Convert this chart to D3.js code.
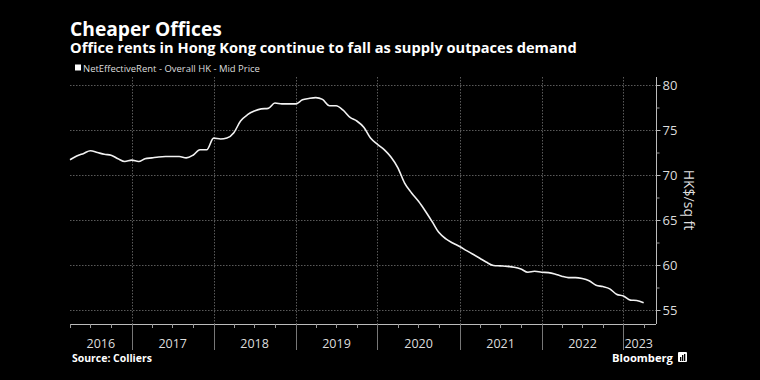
<!DOCTYPE html>
<html><head><meta charset="utf-8">
<script src="https://cdn.jsdelivr.net/npm/d3@7"></script>
<style>
html,body{margin:0;padding:0;background:#000;}
svg{display:block;}
text{font-family:"Open Sans","DejaVu Sans",sans-serif;}
</style></head>
<body>
<svg id="chart" width="760" height="380"></svg>
<script>
// ---- data (monthly, Apr 2016 – Apr 2023), HK$/sq ft ----
const startMonth = "2016-04";
const rentValues = [
 71.7,72.1,72.4,72.7,72.5,72.3,72.2,71.8,71.5,            // 2016 Apr-Dec
 71.65,71.5,71.8,71.9,72.0,72.05,72.05,72.05,71.9,72.2,72.8,72.8, // 2017
 74.1,74.0,74.1,74.7,76.0,76.7,77.1,77.35,77.4,78.0,77.9,77.9,   // 2018
 77.9,78.35,78.5,78.6,78.4,77.7,77.7,77.2,76.4,76.0,75.3,74.1,   // 2019
 73.4,72.8,72.0,70.8,69.1,68.0,67.1,66.0,64.8,63.6,62.9,62.45,   // 2020
 62.05,61.6,61.2,60.75,60.3,59.95,59.9,59.85,59.75,59.55,59.2,59.3, // 2021
 59.2,59.15,59.0,58.75,58.6,58.6,58.5,58.25,57.75,57.6,57.35,56.75, // 2022
 56.55,56.1,56.05,55.8                                            // 2023
];
const yTicks = [55,60,65,70,75,80];
const yearLabels = ["2016","2017","2018","2019","2020","2021","2022","2023"];
const titleText = "Cheaper Offices";
const subtitleText = "Office rents in Hong Kong continue to fall as supply outpaces demand";
const legendText = "NetEffectiveRent - Overall HK - Mid Price";
const unitText = "HK$/sq ft";
const sourceText = "Source: Colliers";

// ---- build dated series ----
const parse = d3.timeParse("%Y-%m");
const t0 = parse(startMonth);
const series = rentValues.map((v,i)=>({date:d3.timeMonth.offset(t0,i), value:v}));

const svg = d3.select("#chart");
const W=760,H=380;
svg.append("rect").attr("width",W).attr("height",H).attr("fill","#000");

const L=70, R=656, T=85, B=310, axisY=324;
const x = d3.scaleTime().domain([t0, new Date(2023,4,26)]).range([L,R]);
const y = d3.scaleLinear().domain([55,80]).range([B,T]);

function fit(sel, w){
  const n=sel.node(); const cur=n.getComputedTextLength();
  const fs=parseFloat(sel.attr("font-size"));
  sel.attr("font-size", (fs*w/cur).toFixed(2));
}

// titles
const tt = svg.append("text").attr("x",70).attr("y",35.5).attr("fill","#fff")
  .attr("font-weight","bold").attr("font-size",20).text(titleText);
fit(tt,152);
const st = svg.append("text").attr("x",70).attr("y",52.5).attr("fill","#fff")
  .attr("font-weight","bold").attr("font-size",15).text(subtitleText);
fit(st,507);

// legend
svg.append("rect").attr("x",75).attr("y",64.5).attr("width",6).attr("height",6).attr("fill","#fff");
const lt = svg.append("text").attr("x",83).attr("y",71.5).attr("fill","#ddd")
  .attr("font-size",10.5).text(legendText);
fit(lt,177);

// grid
const yrs = d3.timeYear.range(d3.timeYear.ceil(x.domain()[0]), x.domain()[1]);
svg.append("g").selectAll("line").data(yTicks).join("line")
  .attr("x1",L).attr("x2",R).attr("y1",d=>y(d)+0.5).attr("y2",d=>y(d)+0.5)
  .attr("stroke","#5a5a5a").attr("stroke-width",1).attr("stroke-dasharray","1.5,1.5");
svg.append("g").selectAll("line").data(yrs).join("line")
  .attr("x1",d=>Math.round(x(d))+0.5).attr("x2",d=>Math.round(x(d))+0.5)
  .attr("y1",77).attr("y2",axisY)
  .attr("stroke","#5a5a5a").attr("stroke-width",1).attr("stroke-dasharray","1.5,1.5");

// right y axis
const yAxis = d3.axisRight(y).tickValues(yTicks).tickSize(4).tickPadding(2).tickFormat(d3.format("d"));
const gy = svg.append("g").attr("transform",`translate(${R+0.5},0)`).call(yAxis);
gy.select(".domain").attr("d",`M0,77V${axisY}`).attr("stroke","#bbb");
gy.selectAll(".tick line").attr("stroke","#bbb");
gy.selectAll(".tick text").attr("fill","#ddd").attr("font-size",13)
  .attr("font-family","'Open Sans',sans-serif");
const yMinor = d3.axisRight(y).tickValues(d3.range(57.5,80,5)).tickSize(3).tickFormat("");
const gym = svg.append("g").attr("transform",`translate(${R+0.5},0)`).call(yMinor);
gym.select(".domain").remove();
gym.selectAll(".tick line").attr("stroke","#999");

svg.append("text").attr("transform",`translate(684,200) rotate(90)`)
  .attr("text-anchor","middle").attr("fill","#ddd").attr("font-size",14).text(unitText);

// x axis
svg.append("line").attr("x1",L).attr("x2",R).attr("y1",axisY+0.5).attr("y2",axisY+0.5).attr("stroke","#bbb");
const quarters = d3.timeMonth.every(3).range(x.domain()[0], x.domain()[1]);
svg.append("g").selectAll("line").data(quarters).join("line")
  .attr("x1",d=>Math.round(x(d))+0.5).attr("x2",d=>Math.round(x(d))+0.5)
  .attr("y1",axisY).attr("y2",axisY+4).attr("stroke","#999");
svg.append("g").selectAll("line").data(yrs).join("line")
  .attr("x1",d=>Math.round(x(d))+0.5).attr("x2",d=>Math.round(x(d))+0.5)
  .attr("y1",axisY).attr("y2",axisY+26).attr("stroke","#777");
const bounds = [x.range()[0], ...yrs.map(x), x.range()[1]];
svg.append("g").selectAll("text").data(yearLabels).join("text")
  .attr("x",(d,i)=>{
    if(i===yearLabels.length-1) return bounds[i]+ (bounds[i+1]-bounds[i])/2 - 1;
    return (bounds[i]+bounds[i+1])/2;})
  .attr("y",347.5).attr("text-anchor","middle").attr("fill","#ddd").attr("font-size",12.5)
  .text(d=>d);

// line
const line = d3.line().x(d=>x(d.date)).y(d=>y(d.value)).curve(d3.curveMonotoneX);
svg.append("path").datum(series).attr("d",line).attr("fill","none")
  .attr("stroke","#f2f2f2").attr("stroke-width",1.6).attr("stroke-linejoin","round");

// footer
const sr = svg.append("text").attr("x",72).attr("y",362).attr("fill","#fff").attr("font-weight","bold")
  .attr("font-size",10.5).text(sourceText);
fit(sr,80);
const bl = svg.append("text").attr("x",612).attr("y",361.5).attr("fill","#fff").attr("font-weight","bold")
  .attr("font-size",13).text("Bloomberg");
fit(bl,61);
// small logo mark
const lg = svg.append("g").attr("transform","translate(678,352)");
lg.append("rect").attr("width",9).attr("height",10).attr("rx",1).attr("fill","#fff");
lg.append("rect").attr("x",2).attr("y",5).attr("width",1.3).attr("height",4).attr("fill","#000");
lg.append("rect").attr("x",4).attr("y",3).attr("width",1.3).attr("height",6).attr("fill","#000");
lg.append("rect").attr("x",6).attr("y",2).attr("width",1.3).attr("height",7).attr("fill","#000");
</script>
</body></html>
